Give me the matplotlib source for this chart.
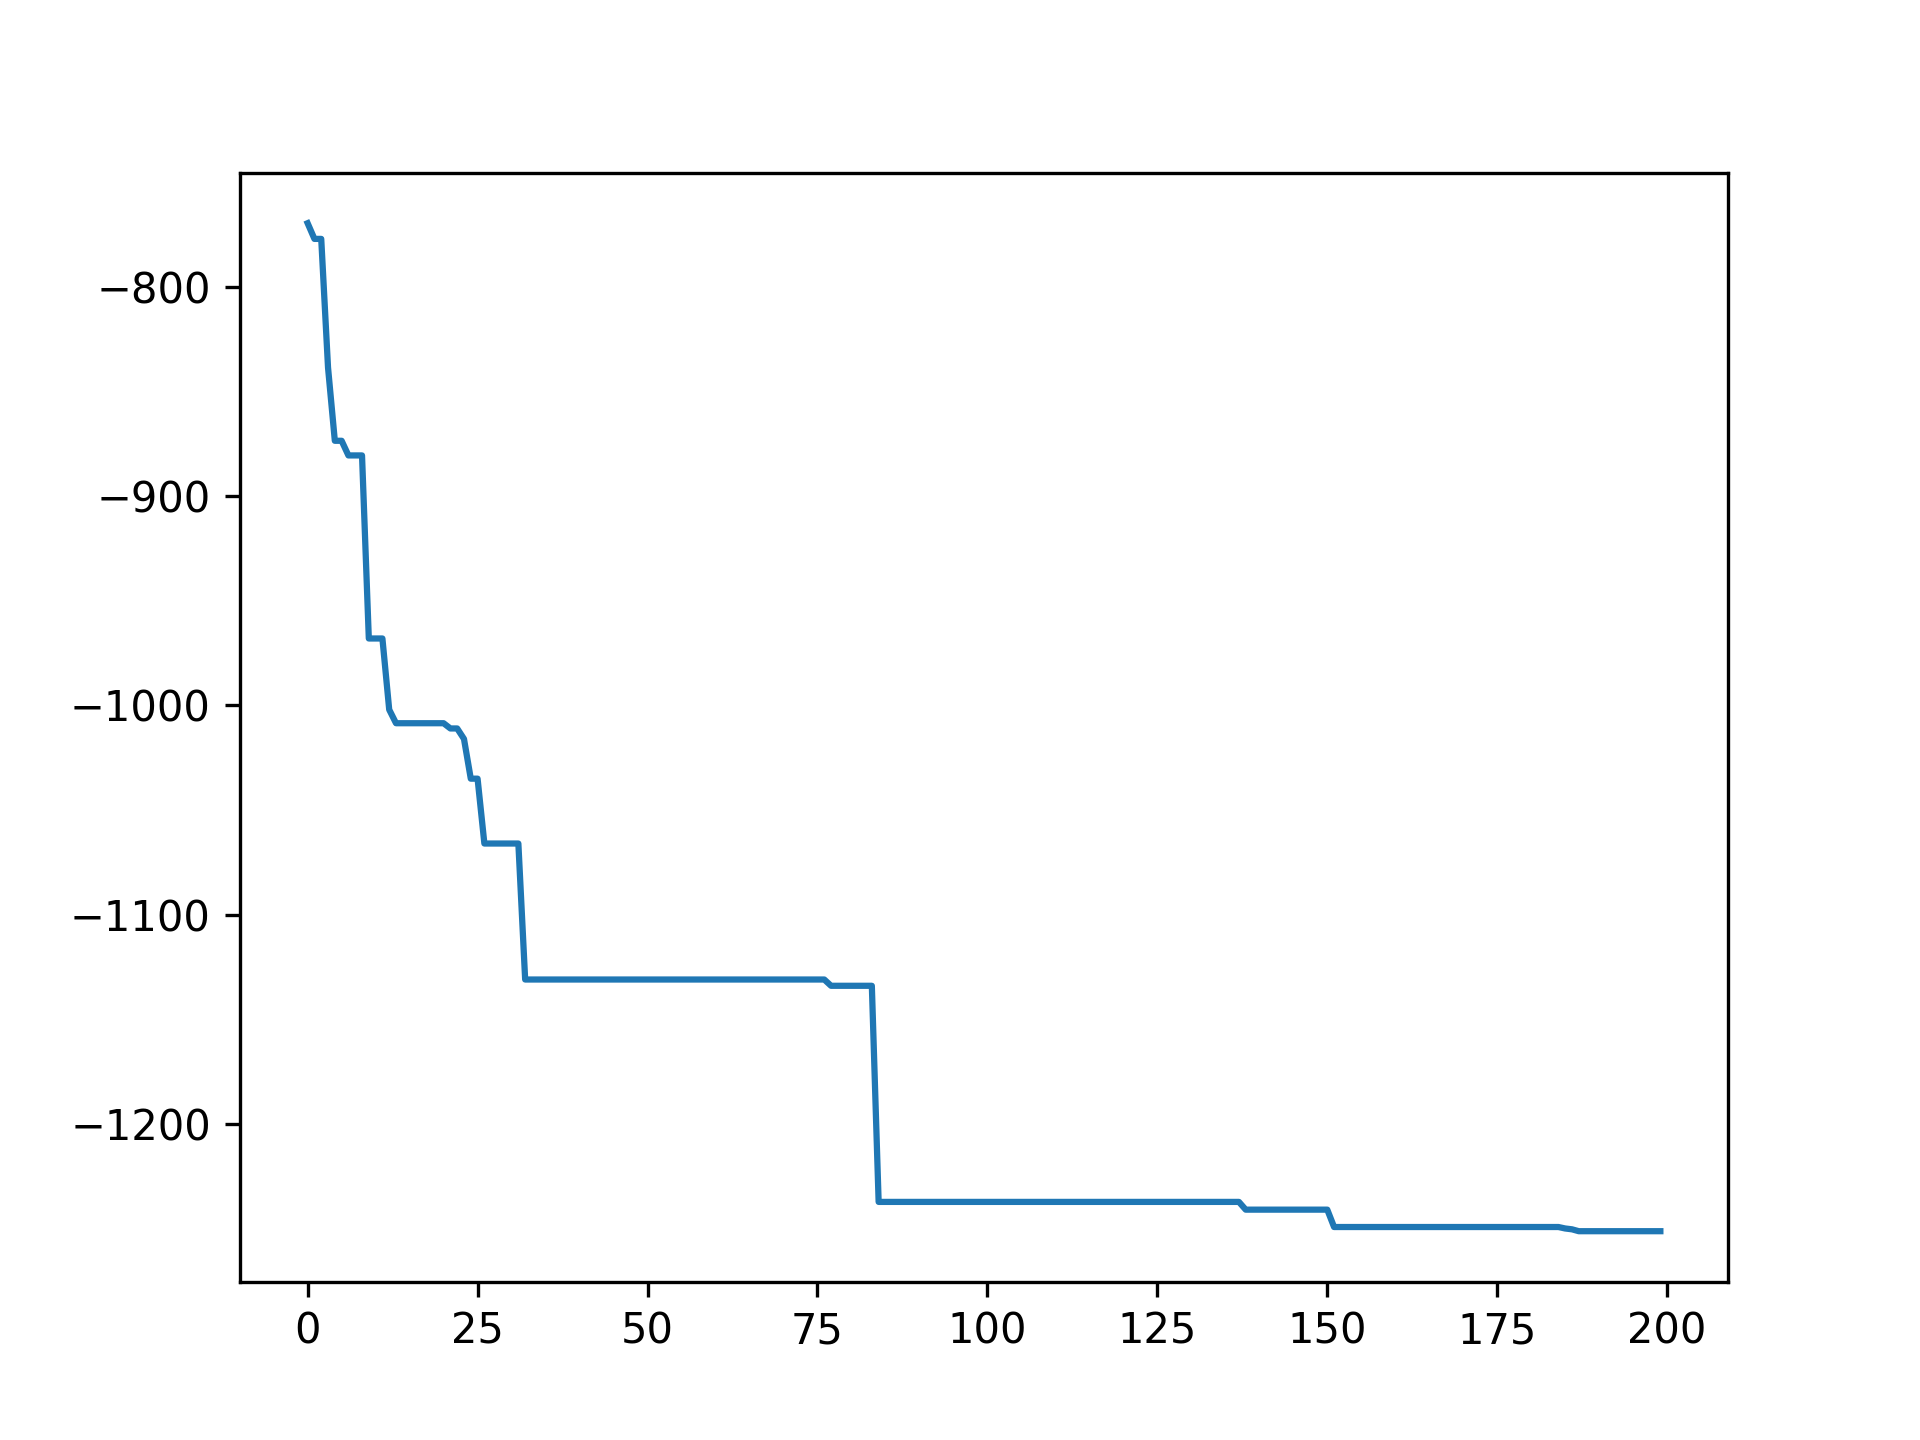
import numpy as np
import matplotlib
matplotlib.use("Agg")
import matplotlib.pyplot as plt

# Best-so-far value per iteration, stored as runs (value, run length)
step_values = [-769.5, -777.0, -838.5, -873.5, -880.5, -968.0, -1002.0, -1008.5,
               -1011.0, -1016.0, -1035.0, -1066.0, -1131.0, -1134.0, -1237.3,
               -1241.0, -1249.3, -1250.0, -1250.4, -1251.3]
step_lengths = [1, 2, 1, 2, 3, 3, 1, 8, 2, 1, 2, 6, 45, 7, 54, 13, 34, 1, 1, 13]

values = np.repeat(step_values, step_lengths)
iterations = np.arange(len(values))

fig, ax = plt.subplots(figsize=(6.4, 4.8), dpi=300)
ax.plot(iterations, values)
fig.savefig("out.png", dpi=300)
